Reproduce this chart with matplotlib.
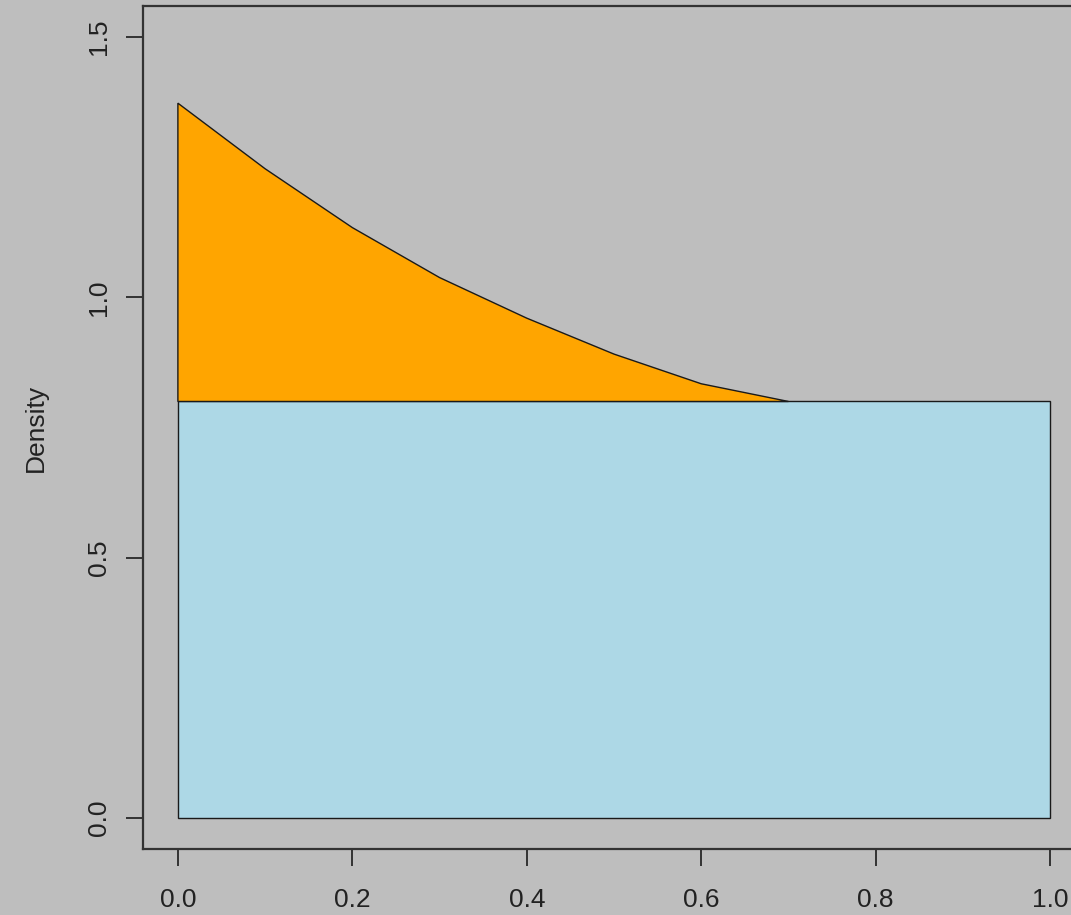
import numpy as np
import matplotlib
matplotlib.use('Agg')
from matplotlib import pyplot as plt

# density values
x_curve = [0.0, 0.1, 0.2, 0.3, 0.4, 0.5, 0.6, 0.7]
y_curve = [1.373, 1.247, 1.134, 1.038, 0.960, 0.891, 0.834, 0.800]
uniform_density = 0.8
uniform_range = [0.0, 1.0]

bg = '#bebebe'
plt.rcParams['font.family'] = ['Liberation Sans', 'DejaVu Sans']

fig = plt.figure(figsize=(10.71, 9.15), dpi=100, facecolor=bg)
ax = fig.add_axes([143 / 1071, 65.8 / 915, 942 / 1071, 843.4 / 915])
ax.set_facecolor(bg)

# blue rectangle (uniform density)
ax.fill([uniform_range[0], uniform_range[1], uniform_range[1], uniform_range[0]],
        [0, 0, uniform_density, uniform_density],
        facecolor='#add8e6', edgecolor='#1a1a1a', linewidth=1.0)

# orange area above the uniform density
px = [x_curve[0]] + x_curve + [x_curve[-1]]
py = [uniform_density] + y_curve + [uniform_density]
ax.fill(px, py, facecolor='#ffa500', edgecolor='#1a1a1a', linewidth=1.0)

ax.set_xlim(-0.04, 1.04)
ax.set_ylim(-0.06, 1.56)
ax.set_xticks([0.0, 0.2, 0.4, 0.6, 0.8, 1.0])
ax.set_xticklabels(['0.0', '0.2', '0.4', '0.6', '0.8', '1.0'])
ax.set_yticks([0.0, 0.5, 1.0, 1.5])
ax.set_yticklabels(['0.0', '0.5', '1.0', '1.5'], rotation=90, va='center')

for s in ax.spines.values():
    s.set_color('#333333')
    s.set_linewidth(1.6)

ax.tick_params(axis='both', length=12, width=1.4, color='#333333',
               labelsize=19, labelcolor='#222222')
ax.tick_params(axis='x', pad=16)
ax.tick_params(axis='y', pad=11)

ax.set_ylabel('Density', fontsize=19, color='#222222')
ax.yaxis.set_label_coords(-0.101, 0.5)

fig.savefig('out.png', dpi=100, facecolor=bg)
